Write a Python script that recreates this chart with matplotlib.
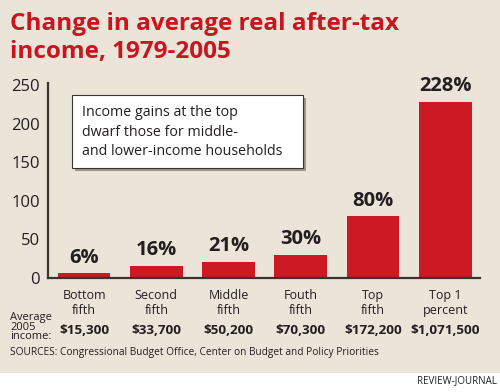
import matplotlib

matplotlib.use("Agg")
import matplotlib.pyplot as plt
from matplotlib.patches import Rectangle

W, H = 500, 392

categories = ["Bottom\nfifth", "Second\nfifth", "Middle\nfifth", "Fouth\nfifth", "Top\nfifth", "Top 1\npercent"]
gains = [6, 16, 21, 30, 80, 228]
incomes = ["$15,300", "$33,700", "$50,200", "$70,300", "$172,200", "$1,071,500"]
yticks = [0, 50, 100, 150, 200, 250]

RED = "#cb1a21"
TITLE_RED = "#c8161f"
BEIGE = "#ebe4d9"
INK = "#231f20"

plt.rcParams["font.family"] = ["Open Sans", "DejaVu Sans"]


def fx(x):
    return x / W


def fy(y):
    return 1 - y / H


fig = plt.figure(figsize=(W / 100, H / 100), dpi=100, facecolor="white")
fig.patches.append(Rectangle((0, fy(373)), 1, 1 - fy(373), transform=fig.transFigure,
                             facecolor=BEIGE, edgecolor="none", zorder=-10))

ax = fig.add_axes([fx(48), fy(278), fx(480) - fx(48), fy(83) - fy(278)])
ax.set_facecolor("none")
x = list(range(len(gains)))
ax.bar(x, gains, width=0.73, color=RED, zorder=2)
ax.set_xlim(-0.5, 5.48)
ax.set_ylim(0, 252.5)
ax.set_yticks(yticks)
ax.set_xticks([])
ax.tick_params(axis="y", length=0, pad=6, labelsize=12, colors=INK)
for s in ("top", "right"):
    ax.spines[s].set_visible(False)
for s in ("left", "bottom"):
    ax.spines[s].set_linewidth(1.6)
    ax.spines[s].set_color("#3a3431")

for i, v in enumerate(gains):
    ax.annotate(f"{v}%", (i, v), xytext=(0, 4), textcoords="offset points",
                ha="center", va="bottom", fontsize=14.5, fontweight="bold", color=INK)
    ax.annotate(categories[i], (i, 0), xytext=(0, -8), textcoords="offset points",
                ha="center", va="top", fontsize=9, color=INK, linespacing=1.15)
    ax.annotate(incomes[i], (i, 0), xytext=(0, -37.5), textcoords="offset points",
                ha="center", va="center", fontsize=9.7, fontweight="bold", color=INK)

# title
fig.text(fx(10), fy(30), "Change in average real after-tax", fontsize=17.5,
         fontweight="bold", color=TITLE_RED, ha="left", va="baseline")
fig.text(fx(10), fy(58), "income, 1979-2005", fontsize=17.5,
         fontweight="bold", color=TITLE_RED, ha="left", va="baseline")

# note box with shadow
fig.patches.append(Rectangle((fx(75), fy(171)), fx(231), fy(95) - fy(168),
                             transform=fig.transFigure, facecolor="#9a958d",
                             edgecolor="none", zorder=3))
fig.patches.append(Rectangle((fx(72), fy(168)), fx(231), fy(95) - fy(168),
                             transform=fig.transFigure, facecolor="white",
                             edgecolor="#3a3431", linewidth=0.8, zorder=4))
fig.text(fx(82), fy(132), "Income gains at the top\ndwarf those for middle-\nand lower-income households",
         fontsize=10.3, color=INK, ha="left", va="center", linespacing=1.42, zorder=5)

fig.text(fx(10), fy(327), "Average\n2005\nincome:", fontsize=8, color=INK,
         ha="left", va="center", linespacing=0.8)
fig.text(fx(10), fy(352), "SOURCES: Congressional Budget Office, Center on Budget and Policy Priorities",
         fontsize=7.3, color=INK, ha="left", va="center")
fig.text(fx(497), fy(381), "REVIEW-JOURNAL", fontsize=7, color=INK, ha="right", va="center")

fig.savefig("out.png", dpi=100, facecolor="white")
